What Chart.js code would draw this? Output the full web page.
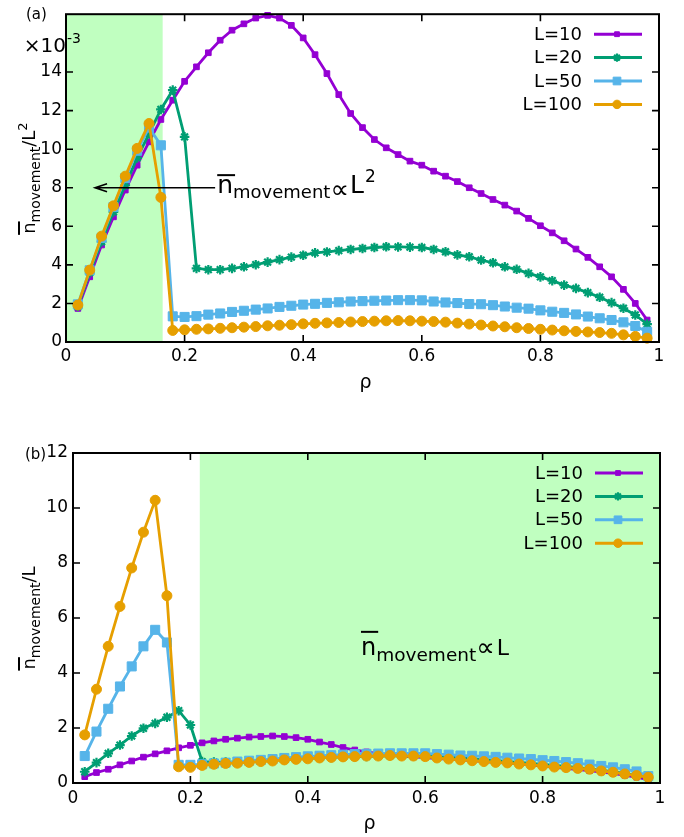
<!DOCTYPE html>
<html><head><meta charset="utf-8">
<script src="https://cdn.jsdelivr.net/npm/chart.js@4.4.1/dist/chart.umd.min.js"></script>
<style>
html,body{margin:0;padding:0;background:#fff;}
#wrap{position:relative;width:684px;height:837px;overflow:hidden;}
canvas{position:absolute;left:0;}
#c1{top:0;}
#c2{top:400px;}
</style></head><body>
<div id="wrap"><canvas id="c1" width="684" height="400"></canvas><canvas id="c2" width="684" height="437"></canvas></div>
<script>
// ---------- data ----------
const rho = [0.02,0.04,0.06,0.08,0.10,0.12,0.14,0.16,0.18,0.20,
             0.22,0.24,0.26,0.28,0.30,0.32,0.34,0.36,0.38,0.40,
             0.42,0.44,0.46,0.48,0.50,0.52,0.54,0.56,0.58,0.60,
             0.62,0.64,0.66,0.68,0.70,0.72,0.74,0.76,0.78,0.80,
             0.82,0.84,0.86,0.88,0.90,0.92,0.94,0.96,0.98];
const seriesLabels = ['L=10','L=20','L=50','L=100'];

// panel (a): n_movement / L^2  (units of 1e-3)
const topL10 = [1.74,3.38,5.03,6.49,7.88,9.17,10.38,11.54,12.54,13.52,
                14.27,15.0,15.65,16.17,16.5,16.8,16.94,16.8,16.42,15.77,
                14.9,13.92,12.83,11.85,11.12,10.5,10.07,9.72,9.38,9.17,
                8.86,8.6,8.32,8.0,7.7,7.39,7.1,6.79,6.41,6.03,
                5.66,5.25,4.82,4.39,3.9,3.38,2.73,2.0,1.14];
const topL20 = [1.85,3.6,5.2,6.75,8.13,9.55,10.8,12.06,13.06,10.64,
                3.82,3.75,3.75,3.82,3.9,4.01,4.14,4.27,4.4,4.5,
                4.62,4.67,4.74,4.8,4.85,4.9,4.94,4.93,4.92,4.9,
                4.8,4.68,4.52,4.42,4.25,4.11,3.9,3.77,3.56,3.38,
                3.18,2.95,2.78,2.56,2.32,2.04,1.75,1.4,0.93];
const topL50 = [1.95,3.72,5.4,7.0,8.5,9.92,11.12,10.2,1.33,1.3,
                1.34,1.42,1.48,1.56,1.62,1.68,1.74,1.82,1.88,1.94,
                1.98,2.03,2.06,2.1,2.12,2.14,2.15,2.17,2.17,2.16,
                2.1,2.05,2.02,1.97,1.96,1.91,1.84,1.78,1.73,1.64,
                1.57,1.51,1.43,1.32,1.23,1.14,1.02,0.83,0.53];
const topL100 = [1.92,3.73,5.49,7.06,8.6,10.04,11.33,7.5,0.6,0.63,
                 0.66,0.68,0.71,0.74,0.77,0.8,0.84,0.87,0.9,0.94,
                 0.97,0.99,1.01,1.04,1.06,1.08,1.1,1.11,1.1,1.08,
                 1.06,1.03,0.98,0.93,0.88,0.83,0.79,0.74,0.7,0.66,
                 0.62,0.58,0.55,0.52,0.49,0.45,0.37,0.29,0.2];

// panel (b): n_movement / L
const botL10 = [0.23,0.38,0.5,0.66,0.8,0.94,1.06,1.17,1.28,1.37,
                1.46,1.53,1.59,1.63,1.67,1.69,1.71,1.69,1.65,1.59,
                1.49,1.40,1.29,1.2,1.13,1.07,1.02,0.98,0.95,0.92,
                0.89,0.87,0.84,0.81,0.78,0.75,0.72,0.69,0.65,0.61,
                0.57,0.53,0.49,0.45,0.4,0.35,0.28,0.21,0.12];
const botL20 = [0.41,0.74,1.08,1.38,1.71,1.99,2.17,2.39,2.63,2.11,
                0.78,0.76,0.76,0.77,0.79,0.81,0.83,0.86,0.88,0.9,
                0.92,0.93,0.95,0.96,0.97,0.98,0.99,0.99,0.98,0.98,
                0.96,0.94,0.91,0.88,0.85,0.82,0.78,0.75,0.71,0.68,
                0.64,0.6,0.56,0.51,0.46,0.41,0.35,0.28,0.19];
const botL50 = [0.98,1.87,2.7,3.51,4.24,4.97,5.57,5.11,0.66,0.66,
                0.68,0.71,0.74,0.78,0.81,0.84,0.87,0.91,0.94,0.97,
                0.99,1.01,1.03,1.05,1.06,1.07,1.08,1.08,1.08,1.08,
                1.05,1.03,1.0,0.99,0.97,0.95,0.92,0.89,0.87,0.83,
                0.8,0.76,0.72,0.67,0.62,0.57,0.5,0.42,0.25];
const botL100 = [1.75,3.41,4.97,6.42,7.82,9.12,10.28,6.81,0.59,0.57,
                 0.64,0.68,0.71,0.72,0.75,0.78,0.8,0.84,0.86,0.88,
                 0.91,0.93,0.95,0.96,0.98,0.98,1.0,0.98,0.98,0.96,
                 0.91,0.87,0.84,0.81,0.78,0.75,0.73,0.69,0.66,0.62,
                 0.58,0.56,0.53,0.5,0.44,0.39,0.33,0.27,0.21];

const xTicks = [0,0.2,0.4,0.6,0.8,1];
const xTickLabels = ['0','0.2','0.4','0.6','0.8','1'];
const yTicksTop = [0,2,4,6,8,10,12,14];
const yTickLabelsTop = ['0','2','4','6','8','10','12','14'];
const yTicksBot = [0,2,4,6,8,10,12];
const yTickLabelsBot = ['0','2','4','6','8','10','12'];
const shadeTop = [0, 0.163];
const shadeBot = [0.216, 1];
const arrowTop = {from:[0.2515, 8], to:[0.049, 8]};

// ---------- styles ----------
const FONT = '"DejaVu Sans", Verdana, sans-serif';
Chart.defaults.font.family = FONT;
const colors = ['#9400d3','#009e73','#56b4e9','#e69f00'];
const pStyles = ['rect','star','rect','circle'];
const pRadii = [4.0, 4.8, 6.4, 5.0];
const pBorder = [1, 2.2, 1, 1];
const shadeColor = 'rgb(192,255,192)';

function partsWidth(ctx, parts){
  let w = 0;
  for (const p of parts){ ctx.font = p.size+'px '+FONT; w += (p.gap||0) + ctx.measureText(p.t).width; }
  return w;
}
function drawParts(ctx, parts, x0, base){
  let x = x0;
  for (const p of parts){
    ctx.font = p.size+'px '+FONT;
    x += (p.gap||0);
    ctx.fillText(p.t, x, base + (p.dy||0));
    const w = ctx.measureText(p.t).width;
    if (p.bar){ ctx.fillRect(x + p.bar[0], base + p.bar[1], w - p.bar[0] + p.bar[2], 2); }
    x += w;
  }
}

function makePanel(id, cfg){
  const datasets = cfg.series.map((vals,i)=>({
    label: seriesLabels[i],
    data: rho.map((r,j)=>({x:r, y:vals[j]})),
    borderColor: colors[i], backgroundColor: colors[i],
    pointBackgroundColor: colors[i], pointBorderColor: colors[i],
    pointStyle: pStyles[i], pointRadius: pRadii[i], pointBorderWidth: pBorder[i],
    borderWidth: 2.8, tension: 0, fill: false, order: 4-i, clip: 6
  }));
  const deco = {
    id: 'deco_'+id,
    beforeDatasetsDraw(chart){
      const {ctx, chartArea:a, scales:{x}} = chart;
      const x0 = Math.max(a.left, x.getPixelForValue(cfg.shade[0]));
      const x1 = Math.min(a.right, x.getPixelForValue(cfg.shade[1]));
      ctx.save(); ctx.fillStyle = shadeColor;
      ctx.fillRect(x0, a.top, x1-x0, a.bottom-a.top);
      ctx.restore();
    },
    afterDatasetsDraw(chart){
      const {ctx, chartArea:a, scales:{x,y}} = chart;
      ctx.save();
      ctx.strokeStyle = '#000'; ctx.lineWidth = 2;
      ctx.strokeRect(a.left, a.top, a.right-a.left, a.bottom-a.top);
      ctx.lineWidth = 1.6;
      ctx.beginPath();
      for (const v of xTicks){
        const px = x.getPixelForValue(v);
        ctx.moveTo(px, a.bottom); ctx.lineTo(px, a.bottom-7);
        ctx.moveTo(px, a.top); ctx.lineTo(px, a.top+7);
      }
      for (const v of cfg.yTicks){
        const py = y.getPixelForValue(v);
        ctx.moveTo(a.left, py); ctx.lineTo(a.left+7, py);
        ctx.moveTo(a.right, py); ctx.lineTo(a.right-7, py);
      }
      ctx.stroke();
      // legend
      ctx.font = '18px '+FONT; ctx.textAlign = 'right'; ctx.textBaseline = 'middle';
      seriesLabels.forEach((lab,i)=>{
        const ry = a.top + 20 + i*23.4;
        ctx.fillStyle = '#000';
        ctx.fillText(lab, a.right-77, ry+1);
        ctx.strokeStyle = colors[i]; ctx.lineWidth = 3;
        ctx.beginPath(); ctx.moveTo(a.right-65, ry); ctx.lineTo(a.right-17, ry); ctx.stroke();
        ctx.fillStyle = colors[i]; ctx.strokeStyle = colors[i]; ctx.lineWidth = pBorder[i];
        Chart.helpers.drawPoint(ctx, {pointStyle:pStyles[i], rotation:0, radius:pRadii[i]*0.85, borderWidth:pBorder[i]}, a.right-42, ry);
      });
      ctx.restore();
      // annotation
      ctx.save();
      ctx.fillStyle = '#000'; ctx.strokeStyle = '#000';
      ctx.textAlign = 'left'; ctx.textBaseline = 'alphabetic';
      if (cfg.arrow){
        const xa = x.getPixelForValue(cfg.arrow.from[0]), ya = y.getPixelForValue(cfg.arrow.from[1]);
        const xb = x.getPixelForValue(cfg.arrow.to[0]), yb = y.getPixelForValue(cfg.arrow.to[1]);
        ctx.lineWidth = 1.6;
        ctx.beginPath(); ctx.moveTo(xa, ya); ctx.lineTo(xb, yb);
        ctx.moveTo(xb+12, yb-4); ctx.lineTo(xb, yb); ctx.lineTo(xb+12, yb+4);
        ctx.stroke();
      }
      const ax = x.getPixelForValue(cfg.annot.at[0]), ay = y.getPixelForValue(cfg.annot.at[1]);
      drawParts(ctx, cfg.annot.parts, ax, ay);
      ctx.restore();
    },
    afterDraw(chart){
      const {ctx, chartArea:a} = chart;
      ctx.save(); ctx.fillStyle = '#000'; ctx.textBaseline = 'alphabetic'; ctx.textAlign = 'left';
      ctx.font = '19px '+FONT; ctx.textAlign = 'center';
      ctx.fillText('ρ', (a.left+a.right)/2 + 3, a.bottom + 45.5);
      ctx.textAlign = 'left';
      const w = partsWidth(ctx, cfg.ytitle);
      ctx.save();
      ctx.translate(35, (a.top+a.bottom)/2);
      ctx.rotate(-Math.PI/2);
      drawParts(ctx, cfg.ytitle, -w/2, 0);
      ctx.restore();
      ctx.font = '15px '+FONT;
      ctx.fillText(cfg.panel[0], cfg.panel[1], cfg.panel[2]);
      if (cfg.extra) cfg.extra(ctx, a);
      ctx.restore();
    }
  };
  return new Chart(document.getElementById(id), {
    type: 'line',
    data: {datasets},
    options: {
      responsive:false, animation:false, devicePixelRatio:1,
      layout:{padding:{top:cfg.padTop, right:cfg.padRight, left:0, bottom:0}},
      plugins:{legend:{display:false}, tooltip:{enabled:false}},
      scales:{
        x:{type:'linear', min:0, max:1,
           afterBuildTicks:s=>{ s.ticks = xTicks.map(v=>({value:v})); },
           ticks:{callback:(v,i)=>xTickLabels[i], padding:cfg.xPad, color:'#000', font:{size:17}, maxRotation:0, autoSkip:false},
           grid:{display:false, drawTicks:false}, border:{display:false},
           afterFit:s=>{ s.height = cfg.xH; }},
        y:{type:'linear', min:0, max:cfg.yMax,
           afterBuildTicks:s=>{ s.ticks = cfg.yTicks.map(v=>({value:v})); },
           ticks:{callback:(v,i)=>cfg.yTickLabels[i], padding:cfg.yPad, color:'#000', font:{size:17}, autoSkip:false},
           grid:{display:false, drawTicks:false}, border:{display:false},
           afterFit:s=>{ s.width = cfg.yW; }}
      }
    },
    plugins:[deco]
  });
}

makePanel('c1', {
  series:[topL10, topL20, topL50, topL100],
  shade: shadeTop, yMax: 17, yTicks: yTicksTop, yTickLabels: yTickLabelsTop,
  padTop: 13, padRight: 25, xH: 58, yW: 66, yPad: 4, xPad: 4,
  arrow: arrowTop,
  annot: {at:[0.255, 7.72], parts:[
    {t:'n', size:25, bar:[0,-19,2]},
    {t:'movement', size:18, dy:5},
    {t:'∝', size:26, dy:5, gap:0},
    {t:'L', size:25, gap:1},
    {t:'2', size:17, dy:-11, gap:1}
  ]},
  ytitle:[
    {t:'n', size:18, bar:[-1,-17,1]},
    {t:'movement', size:14, dy:5},
    {t:'/L', size:18},
    {t:'2', size:13, dy:-8}
  ],
  panel:['(a)', 26, 19],
  extra:(ctx,a)=>{
    ctx.font = '20px '+FONT; ctx.textAlign = 'right';
    ctx.fillText('×10', a.left, 52);
    ctx.font = '14px '+FONT; ctx.textAlign = 'left';
    ctx.fillText('-3', a.left+1, 43);
  }
});

makePanel('c2', {
  series:[botL10, botL20, botL50, botL100],
  shade: shadeBot, yMax: 12, yTicks: yTicksBot, yTickLabels: yTickLabelsBot,
  padTop: 53, padRight: 24, xH: 54, yW: 73, yPad: 5, xPad: 5,
  annot: {at:[0.4906, 4.66], parts:[
    {t:'n', size:24, bar:[0,-24,2]},
    {t:'movement', size:18.5, dy:6},
    {t:'∝', size:26, dy:1, gap:0},
    {t:'L', size:22, gap:2}
  ]},
  ytitle:[
    {t:'n', size:18, bar:[-1,-17,1]},
    {t:'movement', size:14, dy:5},
    {t:'/L', size:18}
  ],
  panel:['(b)', 25, 59]
});
</script>
</body></html>
